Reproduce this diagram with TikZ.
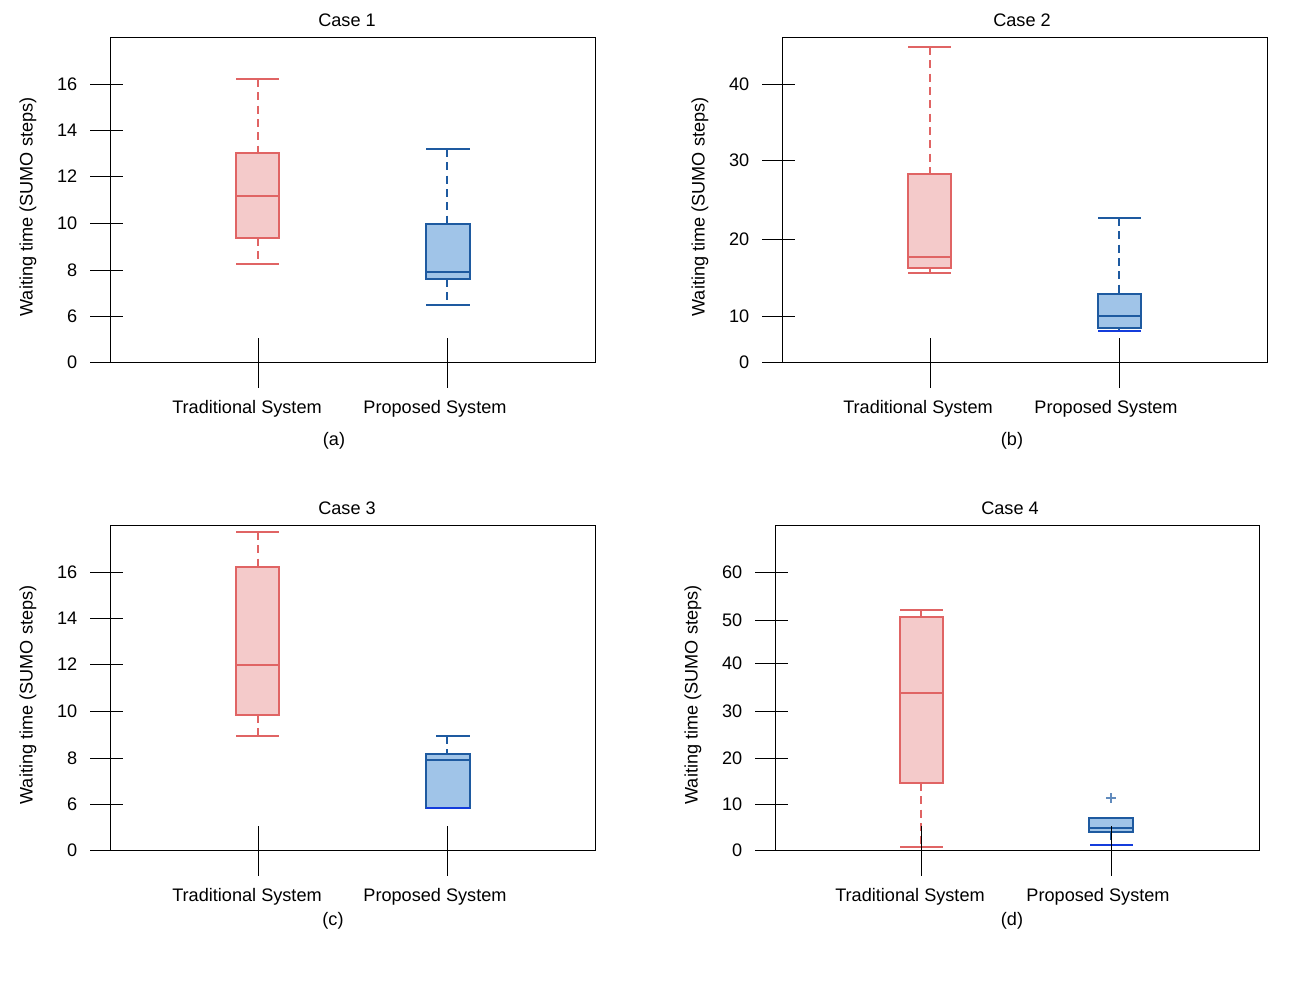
\documentclass[tikz,border=0pt]{standalone}
\usepackage{fontspec}
\setmainfont{Liberation Sans}
\begin{document}
\begin{tikzpicture}[x=0.75pt,y=-0.75pt,font=\fontsize{13.6pt}{15pt}\selectfont,
  frame/.style={draw=black,line width=0.6pt},
  tk/.style={draw=black,line width=0.6pt},
  whisk/.style={dash pattern=on 6pt off 4pt,line width=1.3pt},
  solidl/.style={line width=1.3pt}]
\definecolor{rl}{RGB}{224,100,100}
\definecolor{rf}{RGB}{244,202,202}
\definecolor{bl}{RGB}{30,90,160}
\definecolor{bf}{RGB}{160,196,232}
\definecolor{bb}{RGB}{20,60,220}
\fill[white] (0,0) rectangle (1301,981);
\useasboundingbox (0,0) rectangle (1301,981);
% #1 center, #2 left, #3 right, #4 top, #5 q3, #6 med, #7 q1, #8 bottom, #9 color prefix
\newcommand{\bpbox}[9]{%
  \draw[whisk,draw=#9l] (#1,#4) -- (#1,#5);
  \draw[whisk,draw=#9l] (#1,#7) -- (#1,#8);
  \draw[solidl,draw=#9l] (#2,#4) -- (#3,#4);
  \draw[solidl,draw=#9l] (#2,#8) -- (#3,#8);
  \draw[solidl,draw=#9l,fill=#9f] (#2,#5) rectangle (#3,#7);
  \draw[solidl,draw=#9l] (#2,#6) -- (#3,#6);}
\newcommand{\ytick}[3]{\draw[tk] (#1-20,#2) -- (#1+13,#2); \node[anchor=east] at (#1-28,#2) {#3};}
\newcommand{\xtick}[2]{\draw[tk] (#1,#2-24) -- (#1,#2+26);}
% ---------- Panel a
\bpbox{258}{236}{279}{79}{153}{196}{238}{264}{r}
\bpbox{447}{426}{470}{149}{224}{272}{279}{305}{b}
\draw[frame] (110,37) rectangle (595,362);
\foreach \y/\t in {84/16,130/14,176/12,223/10,270/8,316/6,362/0}{\ytick{110}{\y}{\t}}
\xtick{258}{362}\xtick{447}{362}
\node at (347,20) (ta) {Case 1};
\node at (247,409) (la1) {Traditional System};
\node at (435,409) (la2) {Proposed System};
\node at (334,441) (ca) {(a)};
\node[rotate=90] at (28,207) (ya) {Waiting time (SUMO steps)};
% ---------- Panel b
\bpbox{930}{908}{951}{47}{174}{257}{268}{273}{r}
\bpbox{1119}{1098}{1141}{218}{294}{316}{328}{331}{b}
\draw[solidl,draw=bb] (1098,331) -- (1141,331);
\draw[frame] (782,37) rectangle (1267,362);
\foreach \y/\t in {84/40,160/30,239/20,316/10,362/0}{\ytick{782}{\y}{\t}}
\xtick{930}{362}\xtick{1119}{362}
\node at (1022,20) (tb) {Case 2};
\node at (918,409) (lb1) {Traditional System};
\node at (1106,409) (lb2) {Proposed System};
\node at (1012,441) (cb) {(b)};
\node[rotate=90] at (700,207) (yb) {Waiting time (SUMO steps)};
% ---------- Panel c
\bpbox{258}{236}{279}{532}{567}{665}{715}{736}{r}
\draw[solidl,draw=bl] (436,736) -- (470,736);
\draw[whisk,draw=bl] (447,736) -- (447,754);
\draw[solidl,draw=bl,fill=bf] (426,754) rectangle (470,808);
\draw[solidl,draw=bl] (426,760) -- (470,760);
\draw[solidl,draw=bb] (426,808) -- (470,808);
\draw[frame] (110,525) rectangle (595,850);
\foreach \y/\t in {572/16,618/14,664/12,711/10,758/8,804/6,850/0}{\ytick{110}{\y}{\t}}
\xtick{258}{850}\xtick{447}{850}
\node at (347,508) (tc) {Case 3};
\node at (247,897) (lc1) {Traditional System};
\node at (435,897) (lc2) {Proposed System};
\node at (333,921) (cc) {(c)};
\node[rotate=90] at (28,695) (yc) {Waiting time (SUMO steps)};
% ---------- Panel d
\bpbox{921}{900}{943}{610}{617}{693}{783}{847}{r}
\draw[whisk,draw=bl] (1111,832) -- (1111,845);
\draw[solidl,draw=bb] (1090,845) -- (1133,845);
\draw[solidl,draw=bl,fill=bf] (1089,818) rectangle (1133,832);
\draw[solidl,draw=bl] (1089,828) -- (1133,828);
\draw[draw=bl!70,line width=0.8pt] (1106,798) -- (1116,798) (1111,793) -- (1111,803);
\draw[frame] (775,525) rectangle (1259,850);
\foreach \y/\t in {572/60,620/50,663/40,711/30,758/20,804/10,850/0}{\ytick{775}{\y}{\t}}
\xtick{921}{850}\xtick{1111}{850}
\node at (1010,508) (td) {Case 4};
\node at (910,897) (ld1) {Traditional System};
\node at (1098,897) (ld2) {Proposed System};
\node at (1012,921) (cd) {(d)};
\node[rotate=90] at (693,695) (yd) {Waiting time (SUMO steps)};
\end{tikzpicture}
\end{document}
